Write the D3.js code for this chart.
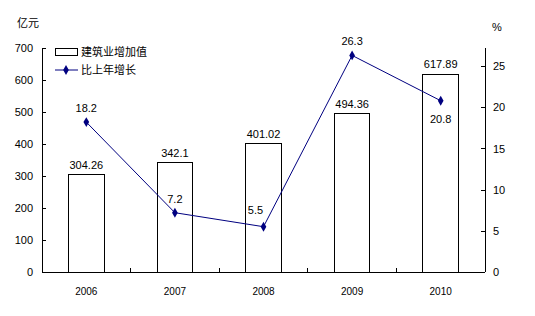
<!DOCTYPE html>
<html>
  <head>
    <meta charset="utf-8" />
    <style>
      body { margin: 0; background: #fff; }
      text { font-family: "Liberation Sans", Arial, sans-serif; font-size: 11px; fill: #000; }
      .cjk { font-family: "Noto Sans CJK SC", sans-serif; font-size: 11px; }
      .axis path, .axis line { stroke: #000; fill: none; shape-rendering: crispEdges; }
    </style>
  </head>
  <body>
    <div id="chart"></div>
    <script src="https://d3js.org/d3.v7.min.js"></script>
    <script>
      const years = ["2006", "2007", "2008", "2009", "2010"];
      const valueAdded = [304.26, 342.1, 401.02, 494.36, 617.89];
      const growth = [18.2, 7.2, 5.5, 26.3, 20.8];
      const leftTicks = [0, 100, 200, 300, 400, 500, 600, 700];
      const rightTicks = [0, 5, 10, 15, 20, 25];

      const W = 535, H = 316;
      const x0 = 42, x1 = 485, y0 = 272, y1 = 48;

      const svg = d3.select("#chart").append("svg").attr("width", W).attr("height", H);

      const x = d3.scaleBand().domain(years).range([x0, x1]).paddingInner(0.6).paddingOuter(0.3);
      const xc = d3.scalePoint().domain(years).range([x0, x1]).padding(0.5);
      const yL = d3.scaleLinear().domain([0, 700]).range([y0, y1]);
      const yR = d3.scaleLinear().domain([0, 27.2]).range([y0, y1]);

      // axes
      svg.append("g").attr("class", "axis")
        .attr("transform", "translate(" + x0 + ",0)")
        .call(d3.axisLeft(yL).tickValues(leftTicks).tickSizeInner(-4).tickSizeOuter(0).tickPadding(9));

      svg.append("g").attr("class", "axis")
        .attr("transform", "translate(" + x1 + ",0)")
        .call(d3.axisRight(yR).tickValues(rightTicks).tickSizeInner(-4).tickSizeOuter(0).tickPadding(8))
        .call(g => g.select(".domain").attr("d", "M0," + y0 + "V" + y1));

      const bottom = svg.append("g").attr("class", "axis");
      bottom.append("line").attr("x1", x0).attr("x2", x1).attr("y1", y0).attr("y2", y0);
      const step = (x1 - x0) / years.length;
      d3.range(1, years.length).forEach(i => {
        bottom.append("line").attr("x1", x0 + i * step).attr("x2", x0 + i * step)
          .attr("y1", y0).attr("y2", y0 - 4);
      });
      svg.selectAll(".year").data(years).enter().append("text")
        .attr("x", d => xc(d)).attr("y", 295).attr("text-anchor", "middle")
        .style("font-size", "10px").text(d => d);

      // bars
      svg.selectAll(".bar").data(years).enter().append("rect")
        .attr("x", d => x(d)).attr("width", x.bandwidth())
        .attr("y", (d, i) => yL(valueAdded[i])).attr("height", (d, i) => y0 - yL(valueAdded[i]))
        .attr("fill", "#fff").attr("stroke", "#000").attr("stroke-width", 1)
        .style("shape-rendering", "crispEdges");

      svg.selectAll(".blabel").data(years).enter().append("text")
        .attr("x", d => xc(d)).attr("y", (d, i) => yL(valueAdded[i]) - 6)
        .attr("text-anchor", "middle").text((d, i) => valueAdded[i]);

      // line
      const line = d3.line().x((d, i) => xc(years[i])).y(d => yR(d));
      svg.append("path").datum(growth).attr("d", line)
        .attr("fill", "none").attr("stroke", "#000080").attr("stroke-width", 1);
      svg.selectAll(".dot").data(growth).enter().append("path")
        .attr("transform", (d, i) => "translate(" + xc(years[i]) + "," + yR(d) + ")")
        .attr("d", d3.symbol().type(d3.symbolDiamond).size(28))
        .attr("fill", "#000080");

      const off = [[0, -10], [0, -10], [-8, -13], [0, -10], [0, 22]];
      svg.selectAll(".llabel").data(growth).enter().append("text")
        .attr("x", (d, i) => xc(years[i]) + off[i][0])
        .attr("y", (d, i) => yR(d) + off[i][1])
        .attr("text-anchor", "middle").text(d => d);

      // unit labels
      svg.append("text").attr("class", "cjk").attr("x", 17).attr("y", 27).text("亿元");
      svg.append("text").attr("x", 492).attr("y", 31).text("%");

      // legend
      svg.append("rect").attr("x", 55).attr("y", 48).attr("width", 22).attr("height", 7)
        .attr("fill", "#fff").attr("stroke", "#000").style("shape-rendering", "crispEdges");
      svg.append("text").attr("class", "cjk").attr("x", 81).attr("y", 56).text("建筑业增加值");
      svg.append("line").attr("x1", 55).attr("x2", 78).attr("y1", 70).attr("y2", 70)
        .attr("stroke", "#000080");
      svg.append("path").attr("transform", "translate(66,70)")
        .attr("d", d3.symbol().type(d3.symbolDiamond).size(28)).attr("fill", "#000080");
      svg.append("text").attr("class", "cjk").attr("x", 81).attr("y", 74).text("比上年增长");
    </script>
  </body>
</html>
